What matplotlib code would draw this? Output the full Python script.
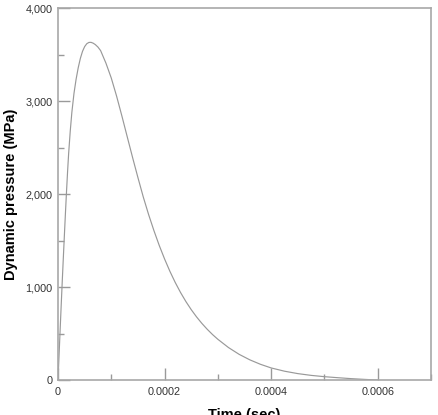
import numpy as np
import matplotlib
matplotlib.use("Agg")
import matplotlib.pyplot as plt
from matplotlib.ticker import MultipleLocator

plt.rcParams["font.family"] = ["Liberation Sans", "DejaVu Sans"]

# curve: time in microseconds, pressure in MPa
time_us = [0, 2, 4, 6, 8, 10, 12, 14, 16, 18, 20, 23, 26, 30, 34, 38, 42,
           46, 50, 54, 58, 62, 66, 70, 75, 80, 90, 100, 110, 120, 130,
           140, 150, 160, 170, 180, 190, 200, 210, 220, 230, 240, 250,
           260, 270, 280, 290, 300, 320, 340, 360, 380, 400, 425, 450,
           475, 500, 525, 550, 575, 600]
pressure = [0, 270, 540, 805, 1065, 1315, 1560, 1800, 2030, 2245, 2440,
            2680, 2880, 3085, 3238, 3362, 3462, 3537, 3588, 3619, 3633,
            3634, 3625, 3610, 3583, 3545, 3410, 3250, 3055, 2840, 2617,
            2395, 2180, 1972, 1783, 1610, 1450, 1305, 1172, 1052, 944,
            847, 760, 682, 612, 549, 492, 441, 352, 279, 220, 172, 133,
            98, 72, 53, 39, 28, 18, 10, 3]

x_ticks = [0, 0.0002, 0.0004, 0.0006]
x_tick_labels = ["0", "0.0002", "0.0004", "0.0006"]
y_ticks = [0, 1000, 2000, 3000, 4000]
y_tick_labels = ["0", "1,000", "2,000", "3,000", "4,000"]

time_s = np.array(time_us) * 1e-6

fig = plt.figure(figsize=(4.39, 4.15), dpi=100)
ax = fig.add_axes([0.1321, 0.0836, 0.8497, 0.8964])

ax.plot(time_s, pressure, color="#999999", linewidth=0.85)

ax.set_xlim(0, 0.0007)
ax.set_ylim(0, 4000)
ax.set_xticks(x_ticks)
ax.set_xticklabels(x_tick_labels)
ax.set_yticks(y_ticks)
ax.set_yticklabels(y_tick_labels)
ax.xaxis.set_minor_locator(MultipleLocator(0.0001))
ax.yaxis.set_minor_locator(MultipleLocator(500))

ax.tick_params(which="both", direction="in", color="#9a9a9a", width=1,
               labelsize=7.8, labelcolor="#333333")
ax.tick_params(which="major", length=8.5)
ax.tick_params(which="minor", length=4.5)
ax.tick_params(axis="y", pad=4)
ax.tick_params(axis="x", pad=5)

for s in ax.spines.values():
    s.set_color("#a8a8a8")
    s.set_linewidth(1.2)

ax.set_xlabel("Time (sec)", fontsize=10.5, fontweight="bold", labelpad=8)
ax.set_ylabel("Dynamic pressure (MPa)", fontsize=10.5, fontweight="bold",
              labelpad=5.5)

fig.savefig("out.png", dpi=100)
